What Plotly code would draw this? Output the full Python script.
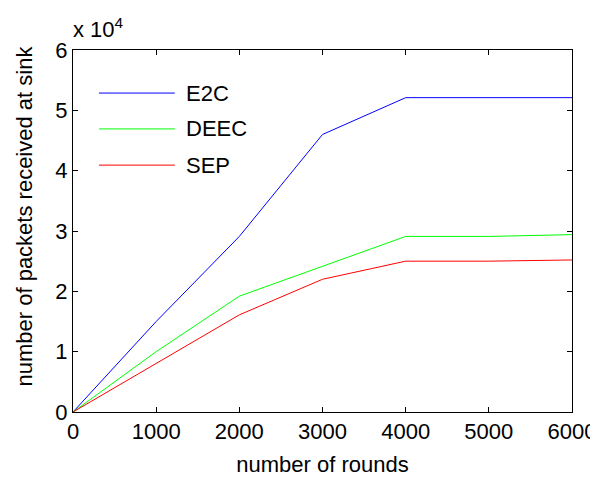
import plotly.graph_objects as go

rounds = [0, 1000, 2000, 3000, 4000, 5000, 6000]
e2c = [0, 15000, 29100, 46000, 52100, 52100, 52100]
deec = [0, 10000, 19200, 24200, 29100, 29100, 29400]
sep = [0, 8000, 16100, 22000, 25000, 25000, 25200]

series_names = ["E2C", "DEEC", "SEP"]
series_vals = [e2c, deec, sep]
series_colors = ["#0000ff", "#00ff00", "#ff0000"]

x_ticks = [0, 1000, 2000, 3000, 4000, 5000, 6000]
y_ticks = [0, 10000, 20000, 30000, 40000, 50000, 60000]
y_tick_text = ["0", "1", "2", "3", "4", "5", "6"]

FONT = "Liberation Sans, Arial, Helvetica, sans-serif"
FS = 22

fig = go.Figure()
for name, vals, col in zip(series_names, series_vals, series_colors):
    fig.add_trace(go.Scatter(x=rounds, y=vals, mode="lines", name=name,
                             line=dict(color=col, width=1), showlegend=False))

axis_common = dict(showgrid=False, zeroline=False, showline=True, linecolor="black",
                   linewidth=1, mirror="ticks", ticks="inside", ticklen=5, automargin=False,
                   tickcolor="black", tickfont=dict(family=FONT, size=FS, color="black"))

# manual legend (MATLAB style: long line samples, no box)
legend_rows_y = [0.881, 0.782, 0.682]
shapes = []
annotations = []
for name, col, yy in zip(series_names, series_colors, legend_rows_y):
    shapes.append(dict(type="line", xref="paper", yref="paper", x0=0.052, x1=0.204,
                       y0=yy, y1=yy, line=dict(color=col, width=1)))
    annotations.append(dict(text=name, xref="paper", yref="paper", x=0.222, y=yy,
                            xanchor="left", yanchor="middle", showarrow=False,
                            font=dict(family=FONT, size=FS, color="black")))

annotations.append(dict(text="x 10<sup>4</sup>", x=0.0, y=1.0, xref="paper", yref="paper",
                        xanchor="left", yanchor="bottom", showarrow=False, yshift=6, xshift=-2,
                        font=dict(family=FONT, size=FS, color="black")))

# y-axis title (MATLAB places it slightly above the axis centre here)
annotations.append(dict(text="number of packets received at sink", x=0.0, y=0.54,
                        xref="paper", yref="paper", xanchor="center", yanchor="middle",
                        textangle=-90, showarrow=False, xshift=-48,
                        font=dict(family=FONT, size=FS, color="black")))

fig.update_layout(
    width=590, height=469,
    margin=dict(l=65, r=26, t=42, b=65, autoexpand=False),
    paper_bgcolor="white", plot_bgcolor="white",
    font=dict(family=FONT, size=FS, color="black"),
    xaxis=dict(range=[0, 6000], tickvals=x_ticks,
               title=dict(text="number of rounds", font=dict(family=FONT, size=FS), standoff=14),
               **axis_common),
    yaxis=dict(range=[0, 60000], tickvals=y_ticks, ticktext=y_tick_text,
               **axis_common),
    showlegend=False,
    shapes=shapes,
    annotations=annotations,
)

fig.write_html("out.html")
